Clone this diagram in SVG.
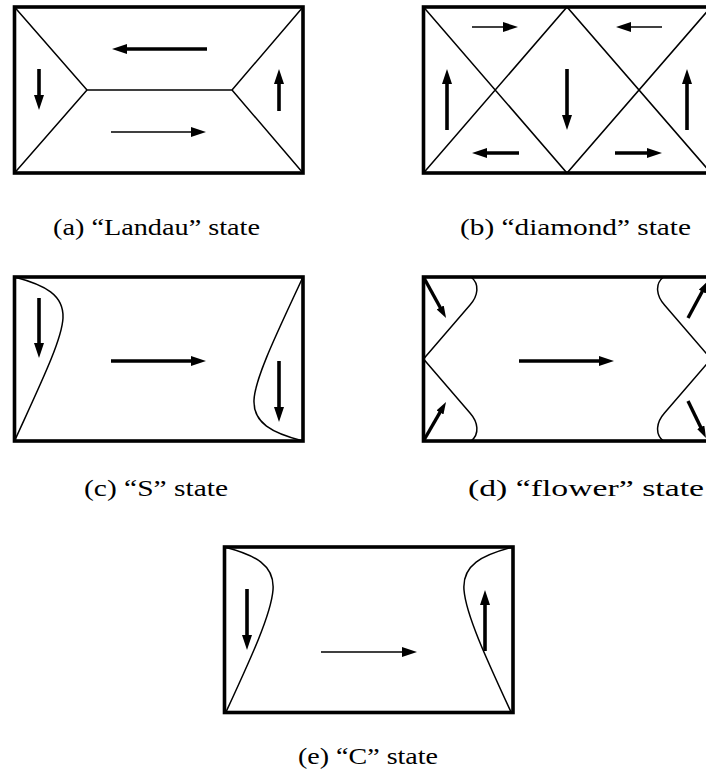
<svg xmlns="http://www.w3.org/2000/svg" width="706" height="773" viewBox="0 0 706 773">
<defs>
<style>
.frame{fill:none;stroke:#000;stroke-width:3.6}
.wall{fill:none;stroke:#000;stroke-width:1.5}
.thick{fill:none;stroke:#000;stroke-width:3.6;marker-end:url(#ah)}
.thin{fill:none;stroke:#000;stroke-width:1.6;marker-end:url(#ah)}
.diag{fill:none;stroke:#000;stroke-width:3.4;marker-end:url(#ahs)}
.lbl{font-family:"Liberation Serif","Times New Roman",serif;font-size:24px;fill:#000}
</style>
<marker id="ah" viewBox="0 0 15 10" refX="2" refY="5" markerWidth="15" markerHeight="10" markerUnits="userSpaceOnUse" orient="auto"><path d="M0,0 L15,5 L0,10 z" fill="#000"/></marker>
<marker id="ahs" viewBox="0 0 12 8" refX="2" refY="4" markerWidth="12" markerHeight="8" markerUnits="userSpaceOnUse" orient="auto"><path d="M0,0 L12,4 L0,8 z" fill="#000"/></marker>
</defs>
<rect width="706" height="773" fill="#fff"/>

<g id="panel-a">
<rect class="frame" x="14.5" y="7" width="288.5" height="166"/>
<path class="wall" d="M14.5,7 L87,90 L14.5,173 M87,90 L232,90 M303,7 L232,90 L303,173"/>
<line class="thick" x1="207" y1="49" x2="125" y2="49"/>
<line class="thin" x1="111" y1="132" x2="193" y2="132"/>
<line class="thick" x1="39" y1="69" x2="39" y2="97"/>
<line class="thick" x1="279" y1="111" x2="279" y2="82"/>
<text class="lbl" x="53" y="234.5" textLength="207" lengthAdjust="spacingAndGlyphs">(a) “Landau” state</text>
</g>

<g id="panel-b">
<rect class="frame" x="423.5" y="7" width="287.5" height="166"/>
<path class="wall" d="M423.5,7 L567,173 L711,7 M423.5,173 L567,7 L711,173"/>
<line class="thin" x1="472" y1="27" x2="505" y2="27"/>
<line class="thin" x1="662" y1="27" x2="629" y2="27"/>
<line class="thick" x1="447" y1="130" x2="447" y2="82"/>
<line class="thick" x1="567" y1="69" x2="567" y2="117"/>
<line class="thick" x1="687" y1="130" x2="687" y2="82"/>
<line class="thick" x1="519" y1="153" x2="485" y2="153"/>
<line class="thick" x1="615" y1="153" x2="649" y2="153"/>
<text class="lbl" x="460" y="234.5" textLength="231" lengthAdjust="spacingAndGlyphs">(b) “diamond” state</text>
</g>

<g id="panel-c">
<rect class="frame" x="14.5" y="277" width="288.5" height="164"/>
<path class="wall" d="M14.5,277 C45,285 64,295 63,318 C62,340 40,385 14.5,441"/>
<path class="wall" d="M303,441 C272,433 253,423 254,400 C255,378 277,333 303,277"/>
<line class="thick" x1="39" y1="298" x2="39" y2="345"/>
<line class="thick" x1="111" y1="361" x2="193" y2="361"/>
<line class="thick" x1="279" y1="361" x2="279" y2="409"/>
<text class="lbl" x="84" y="496" textLength="144" lengthAdjust="spacingAndGlyphs">(c) “S” state</text>
</g>

<g id="panel-d">
<rect class="frame" x="423.5" y="277" width="287.5" height="164"/>
<path class="wall" d="M471,277 C480,284 478,296 470,305 L423.5,359 L470,413 C478,422 480,434 471,441"/>
<path class="wall" d="M663.5,277 C654.5,284 656.5,296 664.5,305 L711,359 L664.5,413 C656.5,422 654.5,434 663.5,441"/>
<line class="thick" x1="519" y1="361" x2="601" y2="361"/>
<line class="diag" x1="424" y1="278" x2="441.2" y2="309.2"/>
<line class="diag" x1="424" y1="440" x2="441" y2="410.7"/>
<line class="diag" x1="688" y1="318" x2="703.2" y2="289.8"/>
<line class="diag" x1="688" y1="401" x2="701.6" y2="429"/>
<text class="lbl" x="468" y="496" textLength="236" lengthAdjust="spacingAndGlyphs">(d) “flower” state</text>
</g>

<g id="panel-e">
<rect class="frame" x="224.5" y="547" width="288.5" height="165.5"/>
<path class="wall" d="M224.5,547 C255,555 275,565 273,590 C271,615 250,660 226,712"/>
<path class="wall" d="M513,547 C482,555 462,565 464,590 C466,615 487,660 511,712"/>
<line class="thick" x1="247" y1="589" x2="247" y2="637"/>
<line class="thick" x1="485" y1="651" x2="485" y2="603"/>
<line class="thin" x1="321" y1="652" x2="404" y2="652"/>
<text class="lbl" x="298" y="764" textLength="140" lengthAdjust="spacingAndGlyphs">(e) “C” state</text>
</g>
</svg>
